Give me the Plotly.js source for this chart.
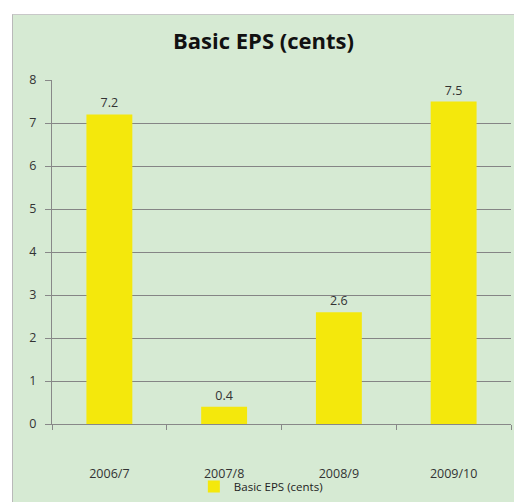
<!DOCTYPE html>
<html><head><meta charset="utf-8">
<script src="https://cdn.plot.ly/plotly-3.0.1.min.js"></script>
<style>
html,body{margin:0;padding:0;background:#fff;}
#frame{position:absolute;left:12px;top:14px;width:502px;height:488px;border-left:1px solid #b9b9b9;border-top:1px solid #c8c8c8;box-sizing:border-box;background:#d6ead3;}
#chart{position:absolute;left:0;top:0;width:501px;height:487px;}
</style></head>
<body>
<div id="frame"><div id="chart"></div></div>
<script>
const categories = ['2006/7', '2007/8', '2008/9', '2009/10'];
const eps = [7.2, 0.4, 2.6, 7.5];
const seriesName = 'Basic EPS (cents)';
const yTicks = [0, 1, 2, 3, 4, 5, 6, 7, 8];

const font = 'Open Sans, sans-serif';
const trace = {
  type: 'bar', x: categories, y: eps, name: seriesName,
  marker: {color: '#f4e80c'},
  text: eps.map(v => v.toFixed(1)), textposition: 'outside',
  textfont: {family: font, size: 12.5, color: '#333'},
  cliponaxis: false, showlegend: true
};
const layout = {
  width: 501, height: 487,
  margin: {l: 39, r: 3, t: 65, b: 78},
  paper_bgcolor: 'rgba(0,0,0,0)', plot_bgcolor: 'rgba(0,0,0,0)',
  title: {text: 'Basic EPS (cents)', x: 0.5, xanchor: 'center', y: 0.947, yanchor: 'middle',
          font: {family: font, size: 22, color: '#111', weight: 'bold'}},
  bargap: 0.6,
  xaxis: {type: 'category', tickson: 'boundaries', ticks: 'outside', ticklen: 5, tickcolor: '#888',
          ticklabelstandoff: 38, automargin: false,
          showline: true, linecolor: '#888', linewidth: 1, showgrid: false,
          tickfont: {family: font, size: 12.5, color: '#333'}},
  yaxis: {range: [0, 8], tickvals: yTicks, ticks: 'outside', ticklen: 6, tickcolor: '#888',
          ticklabelstandoff: 6, automargin: false,
          showline: true, linecolor: '#888', showgrid: true, gridcolor: '#858585', gridwidth: 1,
          zeroline: false,
          tickfont: {family: font, size: 12.5, color: '#333'}},
  legend: {orientation: 'h', x: 0.455, xanchor: 'center', yref: 'container', y: 0.032, yanchor: 'middle',
           font: {family: font, size: 11.5, color: '#222'}, itemwidth: 30},
  showlegend: true
};
Plotly.newPlot('chart', [trace], layout, {staticPlot: true, displayModeBar: false});
</script>
</body></html>
